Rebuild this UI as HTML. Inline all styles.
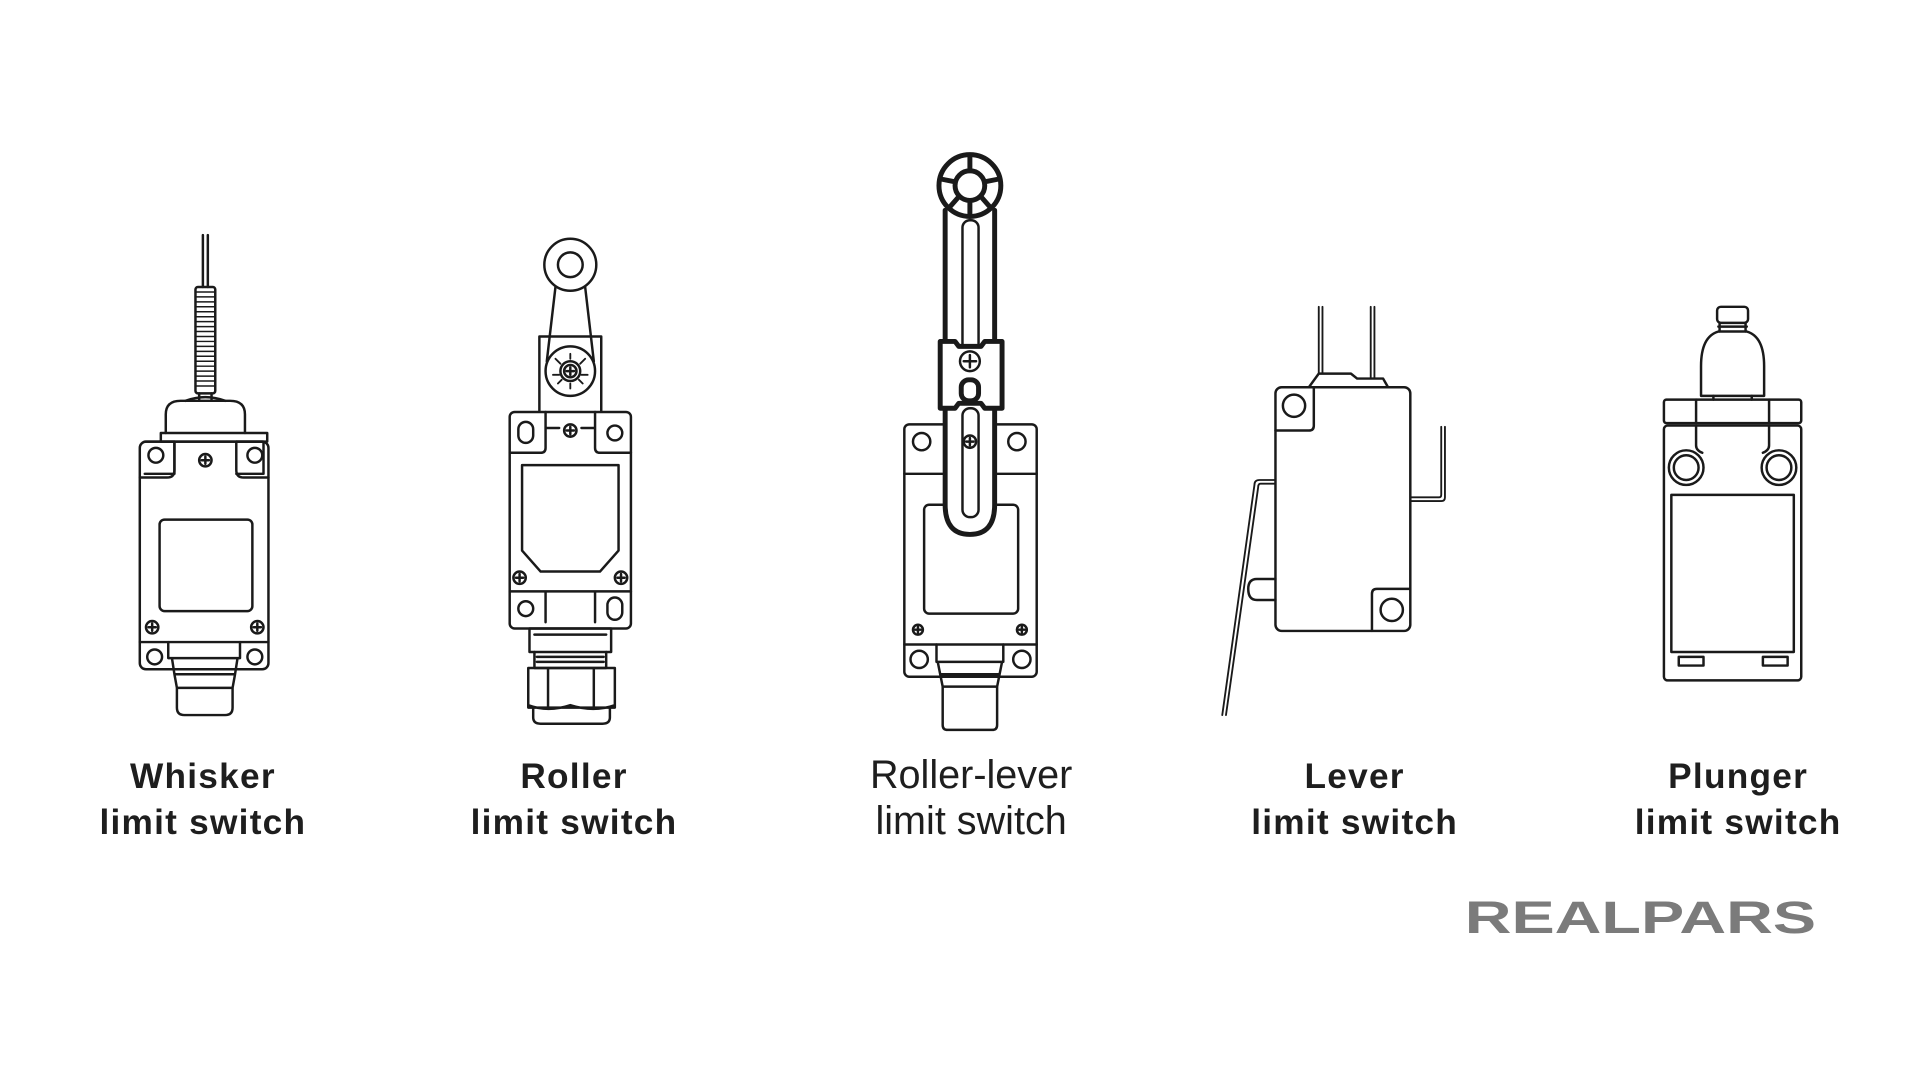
<!DOCTYPE html>
<html><head><meta charset="utf-8"><style>
html,body{margin:0;padding:0;background:#fff;width:1920px;height:1080px;overflow:hidden}
svg{display:block}
.s{fill:none;stroke:#1a1a1a;stroke-width:2;stroke-linejoin:round;stroke-linecap:round}
.t{stroke-width:4}
.w{fill:#fff}
text{font-family:"Liberation Sans",sans-serif;fill:#1e1e1e;text-anchor:middle}
</style></head><body>
<svg width="1920" height="1080" viewBox="0 0 1552 873" xmlns="http://www.w3.org/2000/svg">
<defs>
<g id="scr"><circle r="5" class="s"/><path d="M-3 0H3M0 -3V3" class="s" stroke-width="1.5"/></g>
</defs>

<!-- WHISKER -->
<g class="s">
<path d="M164 190V232M168 190V232"/>
<rect x="158" y="232" width="16" height="86" rx="2"/>
<path d="M158 236H174M158 240H174M158 244H174M158 248H174M158 252H174M158 256H174M158 260H174M158 264H174M158 268H174M158 272H174M158 276H174M158 280H174M158 284H174M158 288H174M158 292H174M158 296H174M158 300H174M158 304H174M158 308H174M158 312H174" stroke-width="1.2"/>
<path d="M161 318V323M171 318V323"/>
<path d="M150 324Q166 318 182 324"/>
<path d="M134 350V335Q134 324 146 324H186Q198 324 198 335V350"/>
<rect x="130" y="350" width="86" height="7"/>
<path d="M117 357H141V383H117M191 357H213V383H191"/>
<rect x="113" y="357" width="104" height="184" rx="5"/>
<path d="M141 357V380Q141 386 135 386H113M191 357V380Q191 386 197 386H217"/>
<circle cx="126" cy="368" r="6"/><circle cx="206" cy="368" r="6"/>
<rect x="129" y="420" width="75" height="74" rx="4"/>
<path d="M113 519H217"/>
<circle cx="125" cy="531" r="6"/><circle cx="206" cy="531" r="6"/>
<path d="M136 519V532H194V519M139 532L141 545H190L192 532M141 545L143 556H188L190 545M143 556V572Q143 578 149 578H182Q188 578 188 572V556"/>
</g>
<use href="#scr" x="166" y="372"/><use href="#scr" x="123" y="507"/><use href="#scr" x="208" y="507"/>

<!-- ROLLER -->
<g class="s">
<path d="M436 332V272H486V332"/>
<path d="M449 232L442 292M473 232L480 292"/>
<circle cx="461" cy="300" r="20" class="s w"/>
<circle cx="461" cy="214" r="21" class="s w"/>
<circle cx="461" cy="214" r="10"/>
<circle cx="461" cy="300" r="8"/>
<path d="M449 290L453 294M473 290L469 294M447 303H452M470 303H475M461 286V290M461 310V314M451 310L454 307M471 310L468 307" stroke-width="1.5"/>
<rect x="412" y="333" width="98" height="175" rx="4"/>
<path d="M441 333V362Q441 366 437 366H412M481 333V362Q481 366 485 366H510M441 346H452M470 346H481"/>
<path d="M441 478V503M481 478V503M412 478H510"/>
<rect x="419" y="341" width="12" height="17" rx="6"/>
<circle cx="497" cy="350" r="6"/>
<path d="M422 376H500V445L485 462H437L422 445Z"/>
<circle cx="425" cy="492" r="6"/>
<rect x="491" y="483" width="12" height="18" rx="6"/>
<rect x="428" y="508" width="66" height="19"/><path d="M432 513H490"/>
<path d="M432 527V540H490V527M434 531H488M434 535H488"/>
<path d="M427 540H497V572H427Z M443 540V572M480 540V572M427 570Q443 576 461 570Q480 576 497 570"/>
<path d="M431 572V580Q431 585 437 585H487Q493 585 493 580V572"/>
</g>
<use href="#scr" x="461" y="348"/><use href="#scr" x="461" y="300"/><use href="#scr" x="420" y="467"/><use href="#scr" x="502" y="467"/>

<!-- ROLLER-LEVER -->
<g class="s">
<rect x="731" y="343" width="107" height="204" rx="4"/>
<path d="M731 383H762M806 383H838"/>
<circle cx="745" cy="357" r="7"/><circle cx="822" cy="357" r="7"/>
<rect x="747" y="408" width="76" height="88" rx="4"/>
<path d="M731 521H838"/>
<circle cx="743" cy="533" r="7"/><circle cx="826" cy="533" r="7"/>
<path d="M757 521V535H811V521M758 535L760 545H808L810 535M760 545L762 555H806L808 545M762 555V586Q762 590 766 590H802Q806 590 806 586V555"/>
<path d="M764 170V408Q764 432 784 432Q804 432 804 408V170" class="s t w"/>
<rect x="778" y="178" width="13" height="106" rx="6"/>
<rect x="778" y="330" width="13" height="88" rx="6"/>
<circle cx="784" cy="150" r="25" class="s t w"/>
<circle cx="784" cy="150" r="12" class="s t"/>
<path d="M784 126V138M784 162V174M762 145L772 147M806 145L796 147M768 167L775 159M800 167L793 159" class="s t"/>
<path d="M760 276H772L775 280H793L796 276H810V330H796L793 326H775L772 330H760Z" class="s t w"/>
<circle cx="784" cy="292" r="8"/><path d="M779 292H789M784 287V297"/>
<rect x="777" y="307" width="14" height="17" rx="6" class="s t"/>
</g>
<use href="#scr" x="784" y="357"/>
<g class="s" stroke-width="1.5"><circle cx="742" cy="509" r="4"/><path d="M739.5 509H744.5M742 506.5V511.5"/><circle cx="826" cy="509" r="4"/><path d="M823.5 509H828.5M826 506.5V511.5"/></g>

<!-- LEVER -->
<g class="s">
<path d="M1066 248V302M1069 248V302M1108 248V306M1111 248V306" stroke-width="1.5"/>
<path d="M1058 313L1066 302H1092L1097 306H1118L1122 313"/>
<rect x="1031" y="313" width="109" height="197" rx="5"/>
<path d="M1031 348H1058Q1062 348 1062 344V313"/>
<circle cx="1046" cy="328" r="9"/>
<path d="M1140 476H1113Q1109 476 1109 480V510"/>
<circle cx="1125" cy="493" r="9"/>
<path d="M1165 345V400Q1165 402 1163 402H1141M1168 345V402Q1168 405 1165 405H1141" stroke-width="1.5"/>
<path d="M1031 468H1016Q1009 468 1009 476Q1009 485 1016 485H1031"/>
<path d="M1031 388H1018Q1014 388 1014 392L988 578M1031 391H1019Q1017 391 1017 394L991 578" stroke-width="1.5"/>
</g>

<!-- PLUNGER -->
<g class="s">
<rect x="1388" y="248" width="25" height="13" rx="3"/>
<path d="M1390 261V268M1411 261V268M1389 264H1412"/>
<path d="M1375 320V296Q1375 272 1389 268H1412Q1426 272 1426 296V320Z"/>
<path d="M1385 320V323M1416 320V323"/>
<rect x="1345" y="323" width="111" height="19" rx="2"/>
<path d="M1371 323V342M1430 323V342"/>
<rect x="1345" y="344" width="111" height="206" rx="3"/>
<path d="M1371 344V360Q1371 364 1376 366M1430 344V360Q1430 364 1425 366"/>
<circle cx="1363" cy="378" r="14"/><circle cx="1363" cy="378" r="10"/>
<circle cx="1438" cy="378" r="14"/><circle cx="1438" cy="378" r="10"/>
<rect x="1351" y="400" width="99" height="127"/>
<rect x="1357" y="531" width="20" height="7"/><rect x="1425" y="531" width="20" height="7"/>
</g>

<!-- LABELS -->
<g font-size="28.5" font-weight="bold" letter-spacing="1">
<text x="164" y="637">Whisker</text><text x="164" y="674">limit switch</text>
<text x="464" y="637">Roller</text><text x="464" y="674">limit switch</text>
<text x="1095" y="637">Lever</text><text x="1095" y="674">limit switch</text>
<text x="1405" y="637">Plunger</text><text x="1405" y="674">limit switch</text>
</g>
<g font-size="32">
<text x="785" y="637">Roller-lever</text><text x="785" y="674">limit switch</text>
</g>
<text x="1326" y="754" font-size="37" font-weight="bold" style="fill:#7b7b7b" textLength="284" lengthAdjust="spacingAndGlyphs">REALPARS</text>
</svg>
</body></html>
